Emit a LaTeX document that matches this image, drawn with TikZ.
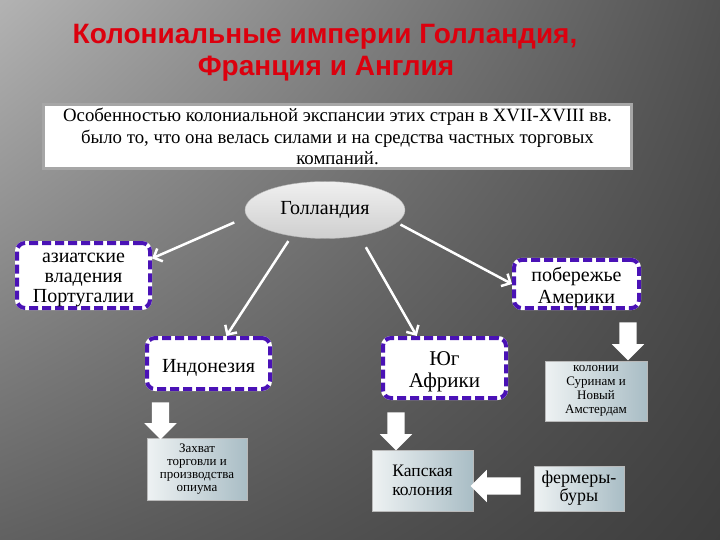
\documentclass[tikz,border=0pt]{standalone}
\usepackage{fontspec}
\setmainfont{Liberation Serif}
\newfontfamily\titrefont{Liberation Sans}
\usetikzlibrary{shapes,shadings,arrows.meta,calc}
\definecolor{rouge}{HTML}{DC000E}
\definecolor{cadre}{HTML}{4A12B6}
\definecolor{bleuclair}{HTML}{EEF2F3}
\definecolor{bleusombre}{HTML}{A9BDC5}
\newcommand{\cale}[1]{\rule{0pt}{#1}}
\tikzset{titre/.style={
    text=rouge,
    font=\titrefont\bfseries\fontsize{28}{30}\selectfont}}
\tikzset{boite/.style={
    draw=cadre,
    line width=4pt,
    dash pattern=on 9pt off 4pt,
    preaction={draw=white, solid, line width=4pt},
    fill=white,
    rounded corners=8pt,
    align=center,
    inner sep=0pt,
    font=\fontsize{20}{21}\selectfont}}
\tikzset{degrade/.style={
    draw=gray!55,
    line width=1pt,
    left color=bleuclair,
    right color=bleusombre,
    align=center,
    inner sep=0pt}}
\tikzset{fleche/.style={
    draw=white,
    line width=2.5pt,
    -{Straight Barb[length=7pt,width=14pt]}}}
\tikzset{bloc/.style={
    single arrow,
    fill=white,
    inner xsep=0pt,
    inner ysep=8.5pt,
    single arrow head extend=7.5pt}}

\begin{document}
\begin{tikzpicture}[x=1pt, y=-1pt]
\useasboundingbox (0,0) rectangle (720,540);
\shade[upper left=black!30, upper right=black!68,
  lower left=black!62, lower right=black!76] (0,0) rectangle (720,540);

\node[titre] (t1) at (325,37) {Колониальные империи Голландия,};
\node[titre] (t2) at (326,69) {Франция и Англия};

\node[fill=white,
  draw=gray!70,
  line width=3pt,
  minimum width=588pt,
  minimum height=64pt,
  align=center,
  font=\fontsize{18.8}{21.5}\selectfont] (intro) at (337.5,136.5)
  {Особенностью колониальной экспансии этих стран в XVII-XVIII вв.\\
   было то, что она велась силами и на средства частных торговых\\
   компаний.};

\node[ellipse,
  minimum width=160pt,
  minimum height=57pt,
  inner sep=0pt,
  draw=gray!60,
  top color=gray!12,
  bottom color=gray!38,
  font=\fontsize{20}{22}\selectfont] (holl) at (325,210) {Голландия};

\node[boite, minimum width=133pt, minimum height=65pt,
  font=\fontsize{20}{20}\selectfont] (asie) at (83.5,275.5)
  {\cale{18pt}азиатские\\владения\\Португалии};
\node[boite, minimum width=125pt, minimum height=48pt,
  font=\fontsize{20}{22}\selectfont] (amer) at (576.5,284)
  {\cale{22pt}побережье\\Америки};
\node[boite, minimum width=123pt, minimum height=51pt] (indo) at (208.5,363.5)
  {\cale{22pt}Индонезия};
\node[boite, minimum width=123pt, minimum height=60pt,
  font=\fontsize{21}{22}\selectfont] (afr) at (444.5,368)
  {\cale{22pt}Юг\\Африки};

\node[degrade, minimum width=102pt, minimum height=60pt,
  font=\fontsize{13}{14}\selectfont] (colon) at (596,391)
  {колонии\\Суринам и\\Новый\\Амстердам};
\node[degrade, minimum width=100pt, minimum height=62pt,
  font=\fontsize{13}{13}\selectfont] (opium) at (197,469)
  {Захват\\торговли и\\производства\\опиума};
\node[degrade, minimum width=101pt, minimum height=61pt,
  font=\fontsize{17.5}{19}\selectfont] (cap) at (422.5,480.5)
  {Капская\\колония};
\node[degrade, minimum width=90pt, minimum height=45pt,
  font=\fontsize{18}{18}\selectfont] (fermer) at (579,488.5)
  {фермеры-\\буры};

% block arrows
\node[bloc, rotate=-90, minimum height=38pt] (b1) at (628,337) {};
\node[bloc, rotate=-90, minimum height=37pt] (b2) at (160.5,416.5) {};
\node[bloc, rotate=-90, minimum height=38pt] (b3) at (396,427) {};
\node[bloc, rotate=180, minimum height=50pt] (b4) at (500,486) {};

  \draw[fleche, shorten <=14pt] (holl.185) -- (asie.14);
  \draw[fleche, shorten <=6pt] (holl.218) -- (indo.57);
  \draw[fleche, shorten <=4pt] (holl.350) -- (amer.west);
  \draw[fleche, shorten <=13pt] (holl.323) -- (afr.131);
\end{tikzpicture}
\end{document}
